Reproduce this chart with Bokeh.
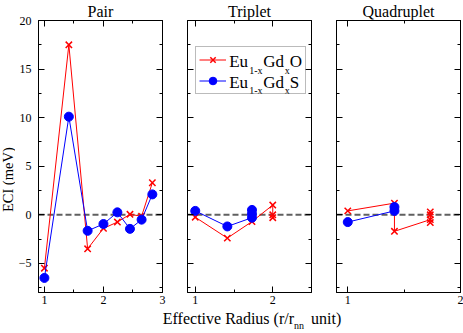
import math
from bokeh.plotting import figure
from bokeh.models import Range1d, FixedTicker, LinearAxis, Span, Label, Legend, LegendItem, Title
from bokeh.layouts import row, column
from bokeh.core.properties import value
from bokeh.embed import file_html
from bokeh.resources import INLINE

FONT = "Liberation Serif"

# ---------------- data ----------------
pair_r = [1.0, 1.414, 1.732, 2.0, 2.236, 2.449, 2.646, 2.828]
pair_eci_O = [-5.5, 17.5, -3.5, -1.4, -0.75, 0.05, -0.15, 3.3]
pair_eci_S = [-6.5, 10.1, -1.65, -0.95, 0.25, -1.45, -0.5, 2.1]

trip_r_O = [1.0, 1.414, 1.732, 2.0, 2.0, 2.0]
trip_eci_O = [-0.25, -2.4, -0.7, 1.0, 0.0, -0.3]
trip_r_S = [1.0, 1.414, 1.732, 1.732, 1.732]
trip_eci_S = [0.4, -1.2, -0.3, 0.5, 0.1]

quad_r_O = [1.0, 1.414, 1.414, 1.732, 1.732, 1.732, 1.732]
quad_eci_O = [0.4, 1.2, -1.7, -0.5, 0.3, 0.0, -0.8]
quad_r_S = [1.0, 1.414, 1.414]
quad_eci_S = [-0.75, 0.4, 0.8]

panel_titles = ["Pair", "Triplet", "Quadruplet"]
pair_xticks, pair_xminor = [1, 2, 3], [1.5, 2.5]
trip_xticks, trip_xminor = [1, 2], [1.5]
quad_xticks, quad_xminor = [1, 2], [1.5]
eci_ticks = [-5, 0, 5, 10, 15, 20]
eci_minor = [-7.5, -2.5, 2.5, 7.5, 12.5, 17.5]

RED = "#ff0000"
BLUE = "#0000ff"
FRAME_W, FRAME_H = 124, 272
TOP_BORDER, BOT_BORDER, BOTTOM_H, LEFT_W = 20, 17, 24, 15
TOTAL_W = 461
MID = 0.3375  # distance (in em) from alphabetic baseline up to box middle


def style_axis(ax, show_labels, standoff):
    ax.major_tick_in = 6
    ax.major_tick_out = 0
    ax.minor_tick_in = 3
    ax.minor_tick_out = 0
    ax.axis_label_standoff = 0
    ax.axis_line_color = "black"
    ax.major_tick_line_color = "black"
    ax.minor_tick_line_color = "black"
    if show_labels:
        ax.major_label_text_font = FONT
        ax.major_label_text_font_size = "12px"
        ax.major_label_text_color = "black"
        ax.major_label_standoff = standoff
    else:
        ax.major_label_text_font_size = "0px"
        ax.major_label_text_color = None
        ax.major_label_standoff = 0


def strip(w, h):
    s = figure(title=None, frame_width=w, frame_height=h,
               x_range=Range1d(0, w), y_range=Range1d(h, 0), min_border=0,
               toolbar_location=None, output_backend="svg",
               x_axis_type=None, y_axis_type=None, outline_line_color=None,
               background_fill_color="white", border_fill_color="white")
    s.grid.visible = False
    return s


def make_panel(title, xr, xticks, xminor, left, right, ylabels,
               rO, yO, rS, yS):
    ttl = Title(text=title, align="center", text_font=FONT,
                text_font_size="16px", text_font_style="normal",
                text_color="black", standoff=1, offset=0)
    p = figure(title=ttl, frame_width=FRAME_W, frame_height=FRAME_H,
               x_range=Range1d(*xr), y_range=Range1d(-8, 20),
               min_border_left=left, min_border_right=right,
               min_border_top=TOP_BORDER, min_border_bottom=BOT_BORDER,
               toolbar_location=None, output_backend="svg",
               background_fill_color="white", border_fill_color="white",
               outline_line_color="black")
    p.grid.visible = False
    xt = FixedTicker(ticks=xticks, minor_ticks=xminor)
    yt = FixedTicker(ticks=eci_ticks, minor_ticks=eci_minor)
    p.below[0].ticker = xt
    p.left[0].ticker = yt
    style_axis(p.below[0], True, 3)
    style_axis(p.left[0], ylabels, 7)
    top = LinearAxis(ticker=xt)
    rgt = LinearAxis(ticker=yt)
    style_axis(top, False, 0)
    style_axis(rgt, False, 0)
    p.add_layout(top, "above")
    p.add_layout(rgt, "right")

    p.add_layout(Span(location=0, dimension="width", line_color="#606060",
                      line_width=2, line_dash="6 3", level="underlay"))

    lo = p.line(rO, yO, line_color=RED, line_width=1)
    so = p.scatter(rO, yO, marker="x", size=9, line_color=RED, line_width=1.5)
    ls = p.line(rS, yS, line_color=BLUE, line_width=1)
    ss = p.scatter(rS, yS, marker="circle", size=9, fill_color=BLUE,
                   line_color=BLUE, line_width=1)
    return p, (lo, so, ls, ss)


f1, _ = make_panel(panel_titles[0], (0.9, 3.0), pair_xticks, pair_xminor,
                   21, 12, True, pair_r, pair_eci_O, pair_r, pair_eci_S)
f2, rr = make_panel(panel_titles[1], (0.9, 2.5), trip_xticks, trip_xminor,
                    13, 12, False, trip_r_O, trip_eci_O, trip_r_S, trip_eci_S)
f3, _ = make_panel(panel_titles[2], (0.9, 2.0), quad_xticks, quad_xminor,
                   13, 3, False, quad_r_O, quad_eci_O, quad_r_S, quad_eci_S)

# legend: Bokeh draws the box and glyph samples (transparent fill), the
# subscripted label texts are laid underneath as separate labels
lo, so, ls, ss = rr
legend_rows = [("O", 225.5), ("S", 204.7)]   # baselines, px above frame bottom
for last, base in legend_rows:
    parts = [("Eu", 41.7, 0, 17), ("1-x", 61.7, -6.5, 10),
             ("Gd", 75.7, 0, 17), ("x", 97.3, -6.5, 10),
             (last, 102.3, 0, 17)]
    for txt, xo, dy, fs in parts:
        f2.add_layout(Label(x=xo, y=base + dy + MID * fs, x_units="screen",
                            y_units="screen", text=txt,
                            text_baseline="middle", text_font=FONT,
                            text_font_size=f"{fs}px", text_color="black"))

leg = Legend(items=[LegendItem(label=value(" "), renderers=[lo, so]),
                    LegendItem(label=value(" "), renderers=[ls, ss])],
             location=(8, 198), padding=3, spacing=2, glyph_width=27,
             glyph_height=19, label_height=19, label_width=72,
             label_standoff=4, margin=0, border_line_color="#777777",
             border_line_width=1, background_fill_alpha=0.0,
             label_text_font=FONT, label_text_font_size="17px")
f2.add_layout(leg)

# y axis title in a strip left of the panels
row_h = TOP_BORDER + FRAME_H + BOT_BORDER
fleft = strip(LEFT_W, row_h)
fleft.add_layout(Label(x=7.5, y=159.2, angle=math.pi / 2, text="ECI (meV)",
                       text_align="center", text_baseline="middle",
                       text_font=FONT, text_font_size="14.5px",
                       text_color="black"))

# x axis title in a strip below the panels (baselines from strip top)
fbot = strip(TOTAL_W, BOTTOM_H)
for txt, xo, base, fs in [("Effective Radius (r/r", 162.3, 14.0, 16),
                          ("nn", 293.5, 19.8, 10),
                          ("unit)", 310.5, 14.0, 16)]:
    fbot.add_layout(Label(x=xo, y=base - MID * fs, text=txt,
                          text_baseline="middle", text_font=FONT,
                          text_font_size=f"{fs}px", text_color="black"))

layout = column(row(fleft, f1, f2, f3, spacing=0), fbot, spacing=0)
open("out.html", "w").write(file_html(layout, INLINE))
